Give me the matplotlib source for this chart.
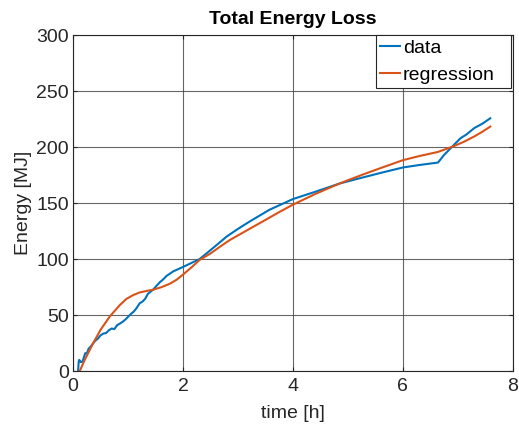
import numpy as np
import matplotlib
matplotlib.use('Agg')
import matplotlib.pyplot as plt

plt.rcParams['font.family'] = ['Liberation Sans', 'DejaVu Sans']

## data
t_data = [0.09, 0.10, 0.11, 0.14, 0.17, 0.20, 0.22, 0.25, 0.28, 0.32, 0.36, 0.40,
          0.45, 0.50, 0.55, 0.60, 0.65, 0.70, 0.75, 0.80, 0.85, 0.90, 0.95, 1.00,
          1.05, 1.10, 1.15, 1.21, 1.26, 1.31, 1.36, 1.45, 1.57, 1.64, 1.70, 1.82,
          2.0, 2.15, 2.3, 2.45, 2.67, 2.79, 3.0, 3.21, 3.57, 4.0, 4.4, 4.85, 5.2,
          5.6, 6.0, 6.3, 6.64, 6.75, 6.91, 7.05, 7.15, 7.3, 7.45, 7.59]
E_data = [0, 8.3, 10, 8, 8.5, 13, 16, 15.7, 20, 22, 24.6, 27,
          29, 32, 33.5, 34, 36.5, 38, 37.5, 41, 42.4, 44, 46, 48.5,
          51, 53, 56, 60.5, 62, 64.5, 69, 72.5, 79, 82, 85, 89,
          93, 96.5, 100, 106, 115, 120, 127, 133.5, 144, 153.6, 160, 167.5, 172,
          177, 181.8, 184, 186.2, 193, 201, 208, 211, 217, 221, 225.7]

t_reg = [0.12, 0.2, 0.36, 0.5, 0.67, 0.85, 0.97, 1.09, 1.21, 1.33, 1.45, 1.6,
         1.76, 1.88, 2.0, 2.15, 2.3, 2.5, 2.67, 2.85, 3.03, 3.21, 3.5, 3.75, 4.0,
         4.4, 4.8, 5.03, 5.3, 5.58, 6.0, 6.3, 6.64, 6.91, 7.1, 7.3, 7.45, 7.59]
E_reg = [0, 9, 24.6, 37, 49, 59, 64.5, 67.8, 70.2, 71.5, 72.6, 74.8,
         78, 81.5, 86.2, 92.5, 99.2, 105, 111, 117, 122, 127, 135, 142, 148.6,
         158, 166.5, 171, 176, 181, 188.3, 192, 195.7, 200.5, 204.5, 209.5, 213.8, 218.3]

fig = plt.figure(figsize=(5.19, 4.28), dpi=100)
ax = fig.add_axes([0.141, 0.133, 0.847, 0.785])

ax.plot(t_data, E_data, color='#0072BD', lw=1.5, label='data')
ax.plot(t_reg, E_reg, color='#D95319', lw=1.5, label='regression')

ax.set_xlim(0, 8)
ax.set_ylim(0, 300)
ax.set_xticks([0, 2, 4, 6, 8])
ax.set_yticks([0, 50, 100, 150, 200, 250, 300])
ax.grid(True, color='#404040', lw=0.8, alpha=0.8)
ax.tick_params(direction='in', top=True, right=True, labelsize=14, colors='#262626',
               labelcolor='#262626', length=3)
ax.tick_params(axis='y', pad=3)
ax.tick_params(axis='x', pad=5)
for s in ax.spines.values():
    s.set_color('#262626')
    s.set_linewidth(0.8)

ax.set_xlabel('time [h]', fontsize=14, color='#262626', labelpad=7)
ax.set_ylabel('Energy [MJ]', fontsize=14, color='#262626', labelpad=3)
ax.set_title('Total Energy Loss', fontsize=14, fontweight='bold', pad=8)

# legend box stretched like the matlab one
leg = ax.legend(loc='upper left', bbox_to_anchor=(0.69, 0.84, 0.305, 0.16), mode='expand',
                fontsize=14, handlelength=1.0, handletextpad=0.15, borderaxespad=0,
                borderpad=0.2, labelspacing=0.5, fancybox=False,
                framealpha=1, edgecolor='#262626')
leg.get_frame().set_linewidth(0.8)

plt.savefig('out.png', dpi=100)
